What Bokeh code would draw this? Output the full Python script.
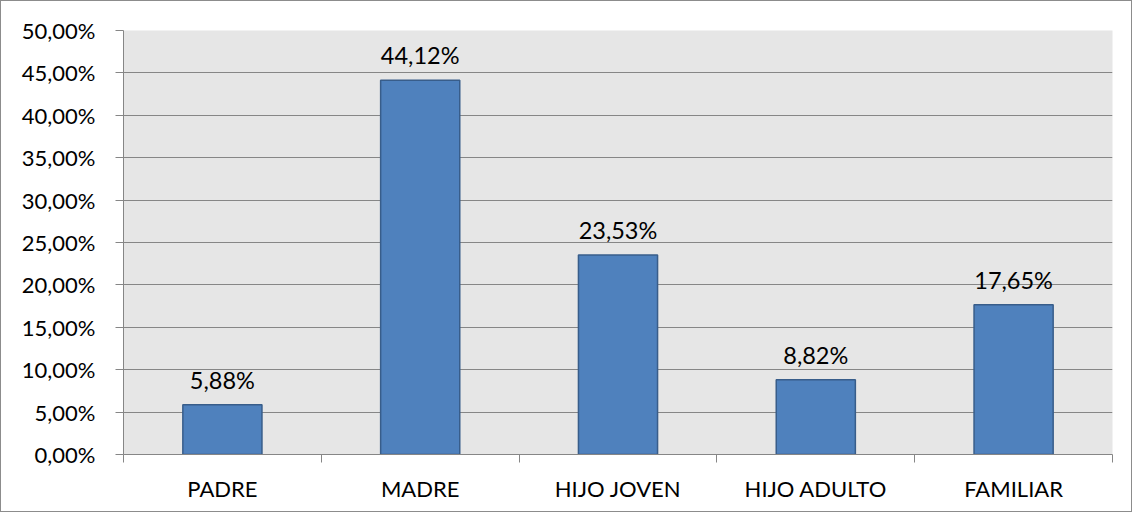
from bokeh.plotting import figure
from bokeh.models import ColumnDataSource, FixedTicker, Range1d, LabelSet
from bokeh.embed import file_html
from bokeh.resources import INLINE
from bokeh.core.properties import value

categories = ["PADRE", "MADRE", "HIJO JOVEN", "HIJO ADULTO", "FAMILIAR"]
values = [5.88, 44.12, 23.53, 8.82, 17.65]
y_ticks = [0, 5, 10, 15, 20, 25, 30, 35, 40, 45, 50]

FONT = "Lato"

x_pos = [i + 0.5 for i in range(len(categories))]
labels = [f"{v:.2f}".replace(".", ",") + "%" for v in values]
src = ColumnDataSource(dict(x=x_pos, top=values, label=labels))

p = figure(width=1132, height=512, output_backend="svg", toolbar_location=None,
           x_range=Range1d(0, len(categories)), y_range=Range1d(0, 50),
           min_border_left=122, min_border_right=21, min_border_top=29, min_border_bottom=59)
p.styles = {"border": "1px solid #8c8c8c", "box-sizing": "border-box"}
p.background_fill_color = "#E6E6E6"
p.border_fill_color = "white"
p.outline_line_color = None

p.vbar(x="x", top="top", width=0.4, bottom=0, source=src,
       fill_color="#4F81BD", line_color="#385D8A", line_width=1.5)

p.add_layout(LabelSet(x="x", y="top", text="label", source=src, text_align="center",
                      text_baseline="alphabetic", y_offset=16,
                      text_font=value(FONT), text_font_size="23.5px", text_color="black"))

# y axis
p.yaxis.ticker = FixedTicker(ticks=y_ticks, minor_ticks=[])
p.yaxis.major_label_overrides = {t: f"{t:.2f}".replace(".", ",") + "%" for t in y_ticks}
p.yaxis.axis_line_color = "#868686"
p.yaxis.major_tick_line_color = "#868686"
p.yaxis.major_tick_out = 8
p.yaxis.major_tick_in = 0
p.yaxis.minor_tick_line_color = None
p.yaxis.major_label_standoff = 20
p.yaxis.major_label_text_font = FONT
p.yaxis.major_label_text_font_size = "22px"
p.yaxis.major_label_text_color = "black"

# x axis
p.xaxis.ticker = FixedTicker(ticks=x_pos, minor_ticks=list(range(len(categories) + 1)))
p.xaxis.major_label_overrides = {x: c for x, c in zip(x_pos, categories)}
p.xaxis.axis_line_color = "#868686"
p.xaxis.major_tick_line_color = None
p.xaxis.major_tick_out = 0
p.xaxis.major_tick_in = 0
p.xaxis.minor_tick_line_color = "#868686"
p.xaxis.minor_tick_out = 8
p.xaxis.minor_tick_in = 0
p.xaxis.major_label_standoff = 12
p.xaxis.major_label_text_font = FONT
p.xaxis.major_label_text_font_size = "22px"
p.xaxis.major_label_text_color = "black"

p.xgrid.grid_line_color = None
p.ygrid.grid_line_color = "#868686"
p.ygrid.grid_line_width = 1

open("out.html", "w").write(file_html(p, INLINE))
